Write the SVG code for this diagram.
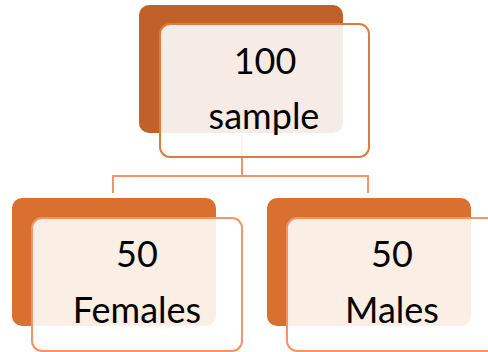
<svg xmlns="http://www.w3.org/2000/svg" width="488" height="352" viewBox="0 0 488 352">
<style>
.back{stroke:none}
.front{fill:#ffffff;fill-opacity:0.88;stroke-width:2}
.conn{fill:none;stroke:#F0956A;stroke-width:2}
text{font-family:Lato,"Liberation Sans",sans-serif;font-size:36px;fill:#000;text-anchor:middle}
</style>
<rect width="488" height="352" fill="#ffffff"/>
<g id="connectors">
<path class="conn" d="M242,133 V176 M113,193 V176 H368 V193"/>
</g>
<g id="node-sample">
<rect class="back" x="139" y="5" width="204" height="128" rx="10" fill="#BF6128"/>
<rect class="front" x="160" y="24" width="209" height="133" rx="10" stroke="#E07A3E"/>
<text x="265" y="74">100</text>
<text x="264" y="129">sample</text>
</g>
<g id="node-females">
<rect class="back" x="12" y="198" width="204" height="128" rx="10" fill="#D9702F"/>
<rect class="front" x="32" y="218" width="210" height="133" rx="10" stroke="#F0956A"/>
<text x="137" y="267">50</text>
<text x="137" y="323">Females</text>
</g>
<g id="node-males">
<rect class="back" x="267" y="198" width="204" height="128" rx="10" fill="#D9702F"/>
<rect class="front" x="287" y="218" width="210" height="133" rx="10" stroke="#F0956A"/>
<text x="392" y="267">50</text>
<text x="392" y="323">Males</text>
</g>
</svg>
